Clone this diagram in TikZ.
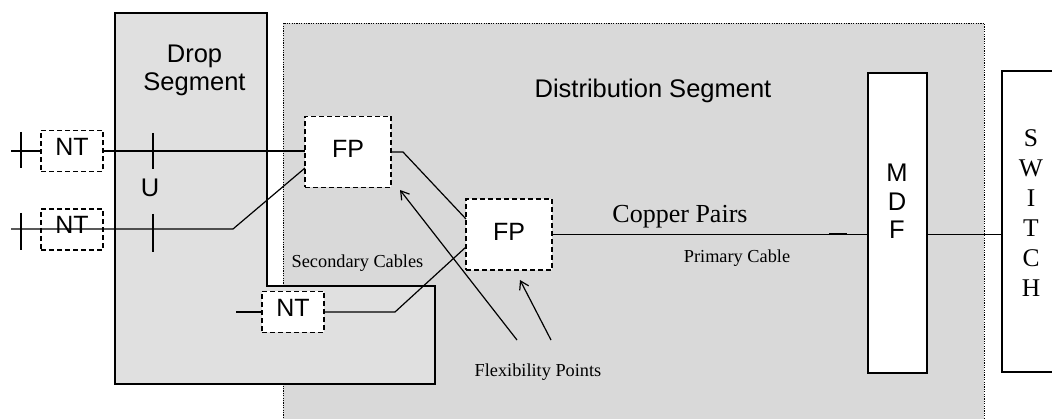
\documentclass[tikz,border=0pt]{standalone}
\usepackage{fontspec}
\setmainfont{Liberation Serif}
\setsansfont{Liberation Sans}
\usetikzlibrary{arrows.meta,calc}
\definecolor{distgray}{HTML}{D9D9D9}
\definecolor{dropgray}{HTML}{E0E0E0}
\tikzset{
  wire/.style={line width=1.2pt},
  heavy/.style={line width=1.8pt},
  dotline/.style={line width=0.8pt, dash pattern=on 1.2pt off 1.2pt},
  dashbox/.style={draw, line width=1.8pt, dash pattern=on 5pt off 3pt, inner sep=0pt, outer sep=0pt},
  ntbox/.style={dashbox, minimum width=62pt, minimum height=41pt,
    font=\sffamily\fontsize{25}{28}\selectfont, text depth=9pt},
  fpbox/.style={dashbox, fill=white, minimum width=86pt, minimum height=71pt,
    font=\sffamily\fontsize{25}{28}\selectfont, text depth=6pt},
  solidbox/.style={draw, fill=white, line width=1.8pt, inner sep=0pt, outer sep=0pt},
  sanstext/.style={font=\sffamily\fontsize{25.5}{28.5}\selectfont, inner sep=0pt},
  bigserif/.style={font=\fontsize{26}{30}\selectfont, inner sep=0pt},
  smallserif/.style={font=\fontsize{18.3}{22}\selectfont, inner sep=0pt, anchor=base},
  pointer/.style={wire, -{Straight Barb[length=8pt,width=10pt]}},
  tick/.style={wire},
}
\begin{document}
\begin{tikzpicture}[x=1pt,y=-1pt]
\useasboundingbox (0,0) rectangle (1052,419);

% distribution segment: grey area with a dotted outline, open at the bottom
\fill[distgray] (283.3,23) rectangle (984,430);
\draw[dotline] (283.3,430) -- (283.3,23) -- (984,23) -- (984,430);

% drop segment: L-shaped area
\draw[heavy, fill=dropgray] (115,13) -- (267,13) -- (267,286) -- (435,286)
  -- (435,384) -- (115,384) -- cycle;

% segment titles
\node[sanstext, anchor=north, align=center, font=\sffamily\fontsize{25.5}{28}\selectfont]
  (droplbl) at (194.5,44.7) {Drop\\Segment};
\node[sanstext, anchor=base] (distlbl) at (653,97.5) {Distribution Segment};

% terminals and flexibility points
\node[ntbox, fill=white] (nt1) at (72,151) {NT};
\node[ntbox] (nt2) at (72,229.5) {NT};
\node[ntbox, fill=white] (nt3) at (293,312) {NT};
\node[fpbox] (fp1) at (348,152) {FP\hspace{14pt}};
\node[fpbox] (fp2) at (509,234.5) {FP\hspace{14pt}};

% main distribution frame and switch
\node[solidbox, minimum width=59pt, minimum height=300pt] (mdf) at (897.5,223) {};
\node[sanstext, anchor=north, align=center] (mdflbl) at (897,164) {M\\D\\F};
\node[solidbox, minimum width=80pt, minimum height=301pt] (switch) at (1042,221.5) {};
\node[bigserif, anchor=north, align=center, font=\fontsize{25.5}{30}\selectfont]
  (switchlbl) at (1031,129.5) {S\\W\\I\\T\\C\\H};

% free ends and reference-point ticks
\coordinate (in1) at (11,151);
\coordinate (in2) at (11,229);
\coordinate (in3) at (236,312);
\coordinate (bend2) at (233,229);
\coordinate (bend1) at (403,152);
\coordinate (bend3) at (395,312);
\coordinate (tA1) at (21,132);  \coordinate (tA2) at (21,168);
\coordinate (tB1) at (153,133); \coordinate (tB2) at (153,169);
\coordinate (tC1) at (21,213);  \coordinate (tC2) at (21,250);
\coordinate (tD1) at (153,214); \coordinate (tD2) at (153,252);
\coordinate (p1) at (517,340);
\coordinate (p2) at (551,340);

% drop wires
\draw[wire] (in1) -- (nt1.west);
\draw[wire] (nt1.east) -- (nt1.east -| fp1.west);
\draw[wire] (in2) -- (bend2) -- ($(fp1.west)+(0,16)$);
\draw[wire] (in3) -- (nt3.west);
\draw[wire] (nt3.east) -- (bend3) -- ($(fp2.west)+(0,12.5)$);
\draw[tick] (tA1) -- (tA2);
\draw[tick] (tB1) -- (tB2);
\draw[tick] (tC1) -- (tC2);
\draw[tick] (tD1) -- (tD2);
\node[sanstext, anchor=base] (ulbl) at (150,197) {U};

% secondary and primary cables
\draw[wire] (fp1.east) -- (bend1) -- ($(fp2.west)+(0,-15.5)$);
\draw[wire] (fp2.east) -- (fp2.east -| mdf.west);
\draw[line width=2pt] ($(fp2.east -| mdf.west)+(-39,0)$) -- ($(fp2.east -| mdf.west)+(-21,0)$);
\draw[wire] (mdf.east |- fp2.east) -- (switch.west |- fp2.east);

% pointers to the flexibility points
\draw[pointer] (p1) -- ($(fp1.south east)+(9,2.5)$);
\draw[pointer] (p2) -- ($(fp2.south)+(11,10)$);

% cable labels
\node[bigserif, anchor=base] (cplbl) at (680,223) {Copper Pairs};
\node[smallserif] (pclbl) at (737,263) {Primary Cable};
\node[smallserif] (sclbl) at (357.5,268) {Secondary Cables};
\node[smallserif] (fxlbl) at (538,377) {Flexibility Points};
\end{tikzpicture}
\end{document}
